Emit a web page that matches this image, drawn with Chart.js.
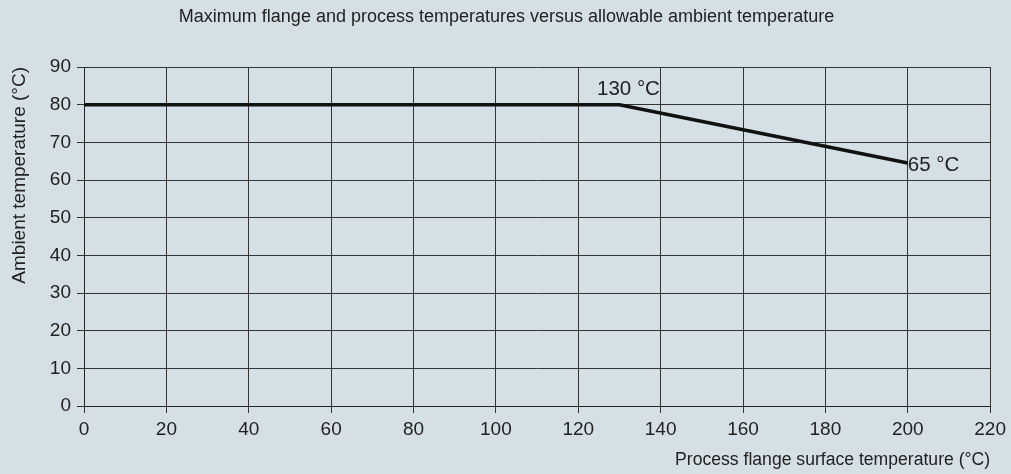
<!DOCTYPE html>
<html>
<head>
<meta charset="utf-8">
<script src="https://cdn.jsdelivr.net/npm/chart.js@4.4.1/dist/chart.umd.min.js"></script>
<style>
  html, body { margin: 0; padding: 0; background: #d5dfe6; }
  #wrap { width: 1011px; height: 474px; position: relative; }
</style>
</head>
<body>
<div id="wrap"><canvas id="c" width="1011" height="474"></canvas></div>
<script>
// Data
const flangeTemps = [0, 130, 200];        // Process flange surface temperature (°C)
const ambientTemps = [80, 80, 64.5];      // Ambient temperature (°C)
const pointLabels = ['', '130 °C', '65 °C'];
const xTicks = [0, 20, 40, 60, 80, 100, 120, 140, 160, 180, 200, 220];
const yTicks = [0, 10, 20, 30, 40, 50, 60, 70, 80, 90];

const chartTitle = 'Maximum flange and process temperatures versus allowable ambient temperature';
const xTitle = 'Process flange surface temperature (°C)';
const yTitle = 'Ambient temperature (°C)';

const FONT = "'Liberation Sans', Arial, sans-serif";
const TXT = '#222';

const labelPlugin = {
  id: 'labels',
  afterDatasetsDraw(chart) {
    const ctx = chart.ctx;
    const xs = chart.scales.x, ys = chart.scales.y;
    ctx.save();
    ctx.fillStyle = TXT;
    ctx.font = '20.5px ' + FONT;
    ctx.textBaseline = 'middle';
    pointLabels.forEach((t, i) => {
      if (!t) return;
      const px = xs.getPixelForValue(flangeTemps[i]);
      const py = ys.getPixelForValue(ambientTemps[i]);
      if (i === 1) {
        ctx.textAlign = 'center';
        ctx.fillText(t, px + 9, py - 15);
      } else {
        ctx.textAlign = 'left';
        ctx.fillText(t, px, py + 2.5);
      }
    });
    // chart title
    ctx.font = '18px ' + FONT;
    ctx.textAlign = 'center';
    ctx.fillText(chartTitle, 506.5, 17);
    ctx.restore();
  }
};

new Chart(document.getElementById('c'), {
  type: 'line',
  data: {
    datasets: [{
      data: flangeTemps.map((x, i) => ({ x: x, y: ambientTemps[i] })),
      borderColor: '#111',
      borderWidth: 3.5,
      pointRadius: 0,
      tension: 0,
      fill: false
    }]
  },
  options: {
    responsive: false,
    animation: false,
    devicePixelRatio: 1,
    layout: { padding: { top: 67, right: 20, left: 0, bottom: 0 } },
    plugins: { legend: { display: false }, title: { display: false }, tooltip: { enabled: false } },
    scales: {
      x: {
        type: 'linear',
        min: 0, max: 220,
        afterBuildTicks(s) { s.ticks = xTicks.map(v => ({ value: v })); },
        afterFit(s) { s.height = 68; },
        grid: { color: '#333', lineWidth: 1, tickLength: 7, drawTicks: true },
        border: { color: '#222', width: 1 },
        ticks: { color: TXT, font: { family: FONT, size: 19 }, padding: 5, maxRotation: 0, autoSkip: false },
        title: { display: true, text: xTitle, align: 'end', color: TXT, font: { family: FONT, size: 17.6 }, padding: { top: 0, bottom: 3 } }
      },
      y: {
        type: 'linear',
        min: 0, max: 90,
        afterBuildTicks(s) { s.ticks = yTicks.map(v => ({ value: v })); },
        afterFit(s) { s.width = 84; },
        grid: { color: '#333', lineWidth: 1, tickLength: 7, drawTicks: true },
        border: { color: '#222', width: 1 },
        ticks: { color: TXT, font: { family: FONT, size: 19 }, padding: 6, autoSkip: false },
        title: { display: true, text: yTitle, align: 'end', color: TXT, font: { family: FONT, size: 19 }, padding: { top: 8, bottom: 0 } }
      }
    }
  },
  plugins: [labelPlugin]
});
</script>
</body>
</html>
